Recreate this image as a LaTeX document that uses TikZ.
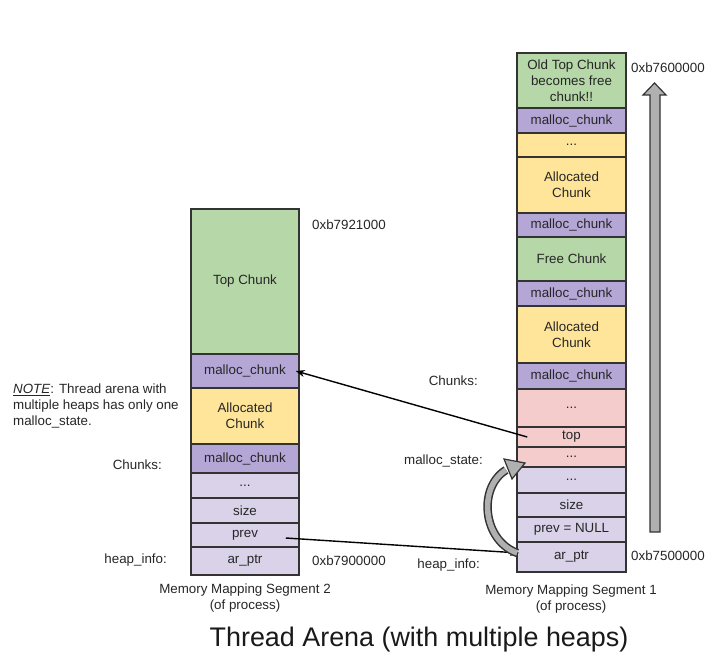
\documentclass[tikz,border=0pt]{standalone}
\usepackage{fontspec}
\setmainfont{Liberation Sans}
\usetikzlibrary{arrows.meta}
\definecolor{cgreen}{HTML}{B6D7A8}
\definecolor{cpurple}{HTML}{B4A7D6}
\definecolor{cyellow}{HTML}{FFE599}
\definecolor{cpink}{HTML}{F4CCCC}
\definecolor{clav}{HTML}{D9D2E9}
\definecolor{cline}{HTML}{333333}
\definecolor{cgray}{HTML}{B0B0B0}
\tikzset{
  cell/.style={draw=cline, line width=1.5bp, rectangle, inner sep=0pt, align=center,
    font=\fontsize{13.4}{16}\selectfont, text=black!85},
  lcell/.style={cell, minimum width=108bp},
  rcell/.style={cell, minimum width=109bp},
  lbl/.style={inner sep=0pt, align=left, font=\fontsize{13.4}{16}\selectfont, text=black!85},
  ptr/.style={line width=1.4bp, black, -{Stealth[length=9bp,width=7bp]}},
}
\begin{document}
\begin{tikzpicture}[x=1bp,y=-1bp]
\useasboundingbox (0,0) rectangle (714,665);
% left column
\node[lcell, fill=cgreen,  minimum height=145bp] (L1) at (245,281.5) {Top Chunk};
\node[lcell, fill=cpurple, minimum height=34bp]  (L2) at (245,371) {malloc\_chunk};
\node[lcell, fill=cyellow, minimum height=56bp]  (L3) at (245,416) {Allocated\\Chunk};
\node[lcell, fill=cpurple, minimum height=29bp]  (L4) at (245,458.5) {malloc\_chunk};
\node[lcell, fill=clav,    minimum height=25bp]  (L5) at (245,485.5) {...};
\node[lcell, fill=clav,    minimum height=25bp]  (L6) at (245,510.5) {size};
\node[lcell, fill=clav,    minimum height=24bp]  (L7) at (245,535) {prev};
\node[lcell, fill=clav,    minimum height=28bp]  (L8) at (245,561) {ar\_ptr};
% right column
\node[rcell, fill=cgreen,  minimum height=55bp] (R1) at (571.5,80.5) {Old Top Chunk\\becomes free\\chunk!!};
\node[rcell, fill=cpurple, minimum height=25bp] (R2) at (571.5,120.5) {malloc\_chunk};
\node[rcell, fill=cyellow, minimum height=24bp] (R3) at (571.5,145) {...};
\node[rcell, fill=cyellow, minimum height=56bp] (R4) at (571.5,185) {Allocated\\Chunk};
\node[rcell, fill=cpurple, minimum height=24bp] (R5) at (571.5,225) {malloc\_chunk};
\node[rcell, fill=cgreen,  minimum height=44bp] (R6) at (571.5,259) {Free Chunk};
\node[rcell, fill=cpurple, minimum height=25bp] (R7) at (571.5,293.5) {malloc\_chunk};
\node[rcell, fill=cyellow, minimum height=57bp] (R8) at (571.5,334.5) {Allocated\\Chunk};
\node[rcell, fill=cpurple, minimum height=26bp] (R9) at (571.5,376) {malloc\_chunk};
\node[rcell, fill=cpink,   minimum height=38bp] (R10) at (571.5,408) {...};
\node[rcell, fill=cpink,   minimum height=20bp] (R11) at (571.5,437) {top};
\node[rcell, fill=cpink,   minimum height=20bp] (R12) at (571.5,457) {...};
\node[rcell, fill=clav,    minimum height=26bp] (R13) at (571.5,480) {...};
\node[rcell, fill=clav,    minimum height=24bp] (R14) at (571.5,505) {size};
\node[rcell, fill=clav,    minimum height=25bp] (R15) at (571.5,529.5) {prev = NULL};
\node[rcell, fill=clav,    minimum height=30bp] (R16) at (571.5,557) {ar\_ptr};
% labels left
\node[lbl, anchor=west] (a1) at (312,225) {0xb7921000};
\node[lbl, anchor=west] (a2) at (312,561) {0xb7900000};
\node[lbl, anchor=east] (hl) at (167,560) {heap\_info:};
\node[lbl, anchor=east] (cl) at (162,465) {Chunks:};
\node[lbl, anchor=west] (note) at (13,406) {\underline{\textit{NOTE}}: Thread arena with\\multiple heaps has only one\\malloc\_state.};
\node[lbl, align=center] (seg2) at (245,598) {Memory Mapping Segment 2\\(of process)};
% labels right
\node[lbl, anchor=west] (a3) at (631,68) {0xb7600000};
\node[lbl, anchor=west] (a4) at (631,556) {0xb7500000};
\node[lbl, anchor=east] (cr) at (478,381) {Chunks:};
\node[lbl, anchor=east] (ms) at (483,461) {malloc\_state:};
\node[lbl, anchor=east] (hr) at (480,565) {heap\_info:};
\node[lbl, align=center] (seg1) at (571,599) {Memory Mapping Segment 1\\(of process)};
% title
\node[inner sep=0pt, font=\fontsize{27}{30}\selectfont, text=black!90] (title) at (419,640) {Thread Arena (with multiple heaps)};
% big gray address arrow
\draw[fill=cgray, draw=cline, line width=1.2bp]
  (650,532) -- (650,95) -- (643,95) -- (654.5,83) -- (666,95) -- (660,95) -- (660,532) -- cycle;
% pointers
\draw[ptr] ([xshift=11bp]R11.west) -- ([xshift=-4bp]L2.east);
\draw[ptr] ([xshift=-14bp,yshift=-3bp]L7.east) -- ([xshift=3bp,yshift=4bp]R16.west);
% curved fat arrow ar_ptr -> malloc_state
\coordinate (cs) at ([xshift=1bp,yshift=4bp]R16.west);
\coordinate (ce) at (506,470);
\draw[line width=8.5bp, cline] (cs) .. controls (482,540) and (478,487) .. (ce);
\draw[line width=5.5bp, cgray] (cs) .. controls (482,540) and (478,487) .. (ce);
\draw[fill=cgray, draw=cline, line width=1.2bp] (512,479) -- (525,463) -- (504,459) -- cycle;
\end{tikzpicture}
\end{document}
